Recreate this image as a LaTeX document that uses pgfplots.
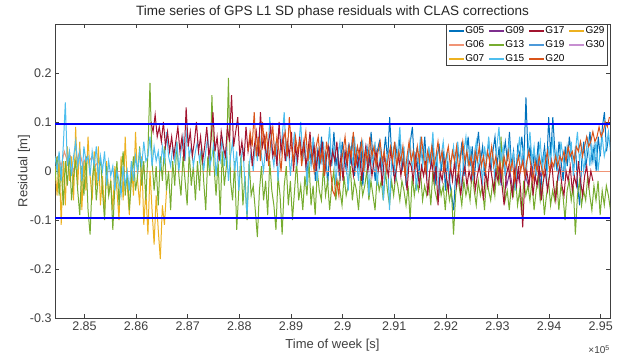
\documentclass[border=0pt]{standalone}
\usepackage{fontspec}
\setmainfont{Liberation Sans}
\usepackage{pgfplots}
\pgfplotsset{compat=1.18}
\definecolor{c05}{rgb}{0,0.447,0.741}
\definecolor{c06}{rgb}{0.94,0.58,0.46}
\definecolor{c07}{rgb}{0.929,0.694,0.125}
\definecolor{c09}{rgb}{0.494,0.184,0.556}
\definecolor{c13}{rgb}{0.466,0.674,0.188}
\definecolor{c15}{rgb}{0.301,0.745,0.933}
\definecolor{c17}{rgb}{0.635,0.078,0.184}
\definecolor{c19}{rgb}{0.30,0.60,0.85}
\definecolor{c20}{rgb}{0.85,0.325,0.098}
\definecolor{c29}{rgb}{0.929,0.694,0.125}
\definecolor{c30}{rgb}{0.78,0.56,0.82}
\definecolor{axgray}{rgb}{0.25,0.25,0.25}
\begin{document}
\begin{tikzpicture}
\useasboundingbox (0,0) rectangle (618pt,358pt);
\begin{axis}[
  name=ax,
  at={(55pt,40pt)}, anchor=south west,
  width=555pt, height=294pt, scale only axis,
  xmin=284429, xmax=295180, ymin=-0.3, ymax=0.3,
  scaled x ticks=false, scaled y ticks=false,
  xtick={285000,286000,287000,288000,289000,290000,291000,292000,293000,294000,295000},
  xticklabels={2.85,2.86,2.87,2.88,2.89,2.9,2.91,2.92,2.93,2.94,2.95},
  ytick={-0.3,-0.2,-0.1,0,0.1,0.2},
  yticklabels={-0.3,-0.2,-0.1,0,0.1,0.2},
  tick align=inside, major tick length=4pt,
  axis line style={axgray, line width=0.5pt},
  tick style={axgray, line width=0.5pt},
  ticklabel style={font=\fontsize{12.5}{14}\selectfont, text=axgray},
  xlabel={Time of week [s]}, ylabel={Residual [m]},
  label style={font=\fontsize{13}{15}\selectfont, text=axgray},
  xlabel style={yshift=-1.5pt},
  ylabel style={yshift=-7pt},
  title={Time series of GPS L1 SD phase residuals with CLAS corrections},
  title style={font=\fontsize{13.5}{15}\selectfont, text=black!85, yshift=-4pt},
  legend columns=4,
  legend cell align=left,
  legend style={at={(rel axis cs:0.995,1)}, anchor=north east,
    draw=axgray, line width=0.5pt, fill=white,
    font=\fontsize{10}{11}\selectfont, inner sep=2pt, row sep=4.5pt,
    /tikz/every even column/.append style={column sep=4pt},
    nodes={inner sep=0.5pt}},
  legend image code/.code={\draw[#1] (0pt,0pt) -- (15pt,0pt);},
  every axis plot/.append style={line width=1pt},
]
% G05
\addplot[c05, forget plot] table[row sep=\\, x expr={289272+40*\coordindex}, y=y] {y\\
0.03\\ -0.01\\ 0.05\\ 0.02\\ 0.06\\ -0.02\\ 0.04\\ 0.01\\ 0.07\\ 0.00\\
0.04\\ -0.03\\ 0.05\\ 0.02\\ 0.08\\ 0.01\\ 0.04\\ -0.02\\ 0.06\\ 0.03\\
0.00\\ 0.05\\ 0.02\\ 0.07\\ -0.01\\ 0.04\\ 0.01\\ 0.06\\ -0.03\\ 0.03\\
0.05\\ 0.01\\ 0.08\\ 0.02\\ -0.02\\ 0.04\\ 0.06\\ 0.00\\ 0.03\\ 0.07\\
0.02\\ 0.11\\ 0.03\\ -0.01\\ 0.05\\ 0.02\\ 0.07\\ 0.00\\ 0.04\\ -0.03\\
0.03\\ 0.06\\ 0.09\\ 0.01\\ 0.04\\ -0.02\\ 0.05\\ 0.02\\ 0.07\\ 0.00\\
0.04\\ 0.01\\ 0.06\\ -0.03\\ 0.03\\ 0.05\\ 0.00\\ 0.04\\ -0.04\\ 0.02\\
-0.02\\ -0.05\\ -0.08\\ 0.00\\ 0.04\\ 0.02\\ 0.06\\ -0.01\\ 0.03\\ 0.07\\
0.01\\ 0.05\\ -0.02\\ 0.04\\ 0.08\\ 0.02\\ 0.05\\ -0.01\\ 0.03\\ 0.06\\
0.00\\ 0.04\\ 0.07\\ 0.01\\ 0.05\\ -0.03\\ 0.03\\ 0.06\\ 0.02\\ 0.08\\
0.01\\ 0.04\\ -0.02\\ 0.05\\ 0.03\\ 0.07\\ 0.02\\ 0.15\\ 0.03\\ 0.05\\
-0.01\\ 0.04\\ 0.01\\ 0.06\\ -0.06\\ 0.02\\ 0.05\\ 0.00\\ 0.11\\ 0.03\\
0.11\\ 0.04\\ 0.00\\ 0.06\\ 0.02\\ -0.02\\ 0.05\\ 0.01\\ 0.07\\ 0.03\\
0.00\\ 0.05\\ -0.03\\ -0.07\\ 0.02\\ 0.06\\ 0.01\\ 0.04\\ 0.08\\ 0.02\\
0.05\\ 0.00\\ 0.07\\ 0.03\\ 0.09\\ 0.12\\ 0.04\\ 0.07\\
};
% G06 (start segment and zero line)
\addplot[c06, forget plot] table[row sep=\\, x expr={284429+60*\coordindex}, y=y] {y\\
0.02\\ 0.03\\ 0.01\\ 0.04\\ 0.02\\ 0.03\\ 0.00\\ 0.02\\ 0.04\\ 0.01\\
0.03\\ 0.02\\ 0.03\\ 0.01\\ 0.02\\
};
\addplot[c06, line width=0.5pt, forget plot] coordinates {(285400,0) (295180,0)};
% G07
\addplot[c07, forget plot] table[row sep=\\, x expr={284429+40*\coordindex}, y=y] {y\\
0.01\\ -0.05\\ 0.03\\ -0.11\\ 0.02\\ -0.07\\ 0.05\\ -0.02\\ 0.03\\ -0.06\\
0.09\\ -0.03\\ 0.06\\ -0.08\\ 0.02\\ -0.04\\ 0.07\\ -0.01\\ -0.06\\ 0.04\\
-0.03\\ 0.05\\ -0.07\\ -0.01\\ -0.09\\ 0.02\\ -0.05\\ -0.02\\ -0.08\\ 0.01\\
-0.04\\ -0.10\\ 0.03\\ -0.06\\ 0.07\\ -0.03\\ -0.09\\ 0.02\\ -0.05\\ 0.08\\
-0.02\\ -0.07\\ 0.03\\ -0.11\\ -0.04\\ -0.13\\ 0.00\\ -0.08\\ -0.15\\ -0.05\\
-0.12\\ -0.18\\ -0.07\\ -0.11\\ -0.04\\
};
% G09
\addplot[c09, forget plot] table[row sep=\\, x expr={293000+60*\coordindex}, y=y] {y\\
0.01\\ -0.02\\ 0.02\\ -0.03\\ 0.00\\ -0.04\\ 0.01\\ -0.02\\ 0.03\\ -0.01\\
-0.03\\ 0.01\\ -0.02\\ 0.02\\ -0.01\\ 0.00\\
};
% G13
\addplot[c13, forget plot] table[row sep=\\, x expr={284429+40*\coordindex}, y=y] {y\\
-0.02\\ 0.03\\ -0.05\\ 0.01\\ -0.07\\ 0.02\\ -0.03\\ 0.04\\ -0.06\\ -0.01\\
0.02\\ -0.04\\ -0.09\\ 0.01\\ -0.05\\ 0.03\\ -0.08\\ -0.13\\ -0.02\\ 0.02\\
-0.06\\ -0.01\\ 0.03\\ -0.04\\ -0.10\\ 0.01\\ -0.05\\ -0.02\\ -0.12\\ -0.03\\
0.02\\ -0.07\\ -0.01\\ 0.04\\ -0.05\\ 0.00\\ -0.08\\ -0.02\\ 0.03\\ -0.04\\
-0.01\\ 0.05\\ -0.03\\ 0.02\\ -0.06\\ 0.04\\ 0.18\\ 0.02\\ -0.04\\ 0.01\\
-0.07\\ 0.03\\ -0.02\\ 0.05\\ -0.04\\ 0.00\\ -0.08\\ 0.02\\ -0.03\\ 0.06\\
-0.01\\ -0.05\\ 0.03\\ -0.02\\ -0.07\\ 0.04\\ -0.03\\ 0.01\\ -0.06\\ 0.02\\
-0.04\\ 0.05\\ -0.02\\ -0.08\\ 0.03\\ -0.01\\ 0.155\\ 0.01\\ -0.05\\ 0.02\\
-0.09\\ 0.04\\ -0.03\\ 0.01\\ 0.19\\ -0.02\\ -0.06\\ 0.02\\ -0.12\\ -0.04\\
0.03\\ -0.07\\ -0.01\\ -0.10\\ 0.02\\ -0.05\\ -0.03\\ -0.08\\ -0.135\\ -0.04\\
0.01\\ -0.06\\ -0.02\\ -0.09\\ 0.02\\ -0.04\\ -0.07\\ -0.12\\ -0.01\\ -0.05\\
-0.13\\ -0.03\\ 0.01\\ -0.07\\ -0.02\\ -0.10\\ -0.04\\ 0.02\\ -0.06\\ -0.03\\
-0.08\\ -0.01\\ -0.05\\ 0.02\\ -0.07\\ -0.03\\ -0.09\\ 0.00\\ -0.04\\ -0.06\\
0.01\\ -0.05\\ -0.02\\ -0.08\\ -0.03\\ 0.00\\ -0.06\\ -0.02\\ -0.04\\ -0.07\\
-0.01\\ -0.05\\ -0.03\\ 0.01\\ -0.06\\ -0.02\\ -0.04\\ -0.08\\ -0.01\\ -0.05\\
-0.03\\ 0.00\\ -0.06\\ -0.02\\ -0.05\\ -0.08\\ -0.01\\ -0.04\\ -0.02\\ -0.06\\
0.00\\ -0.04\\ -0.07\\ -0.02\\ -0.05\\ -0.01\\ -0.03\\ -0.06\\ -0.02\\ -0.04\\
-0.07\\ -0.03\\ -0.10\\ -0.01\\ -0.05\\ -0.02\\ -0.04\\ 0.00\\ -0.06\\ -0.03\\
-0.05\\ -0.02\\ -0.07\\ 0.00\\ -0.04\\ -0.06\\ -0.02\\ -0.05\\ -0.03\\ -0.08\\
-0.02\\ -0.06\\ -0.04\\ -0.13\\ -0.05\\ -0.01\\ -0.04\\ -0.07\\ -0.02\\ -0.05\\
-0.03\\ -0.06\\ 0.00\\ -0.04\\ -0.07\\ -0.02\\ -0.05\\ -0.03\\ -0.08\\ -0.01\\
-0.04\\ -0.06\\ -0.02\\ -0.05\\ 0.01\\ -0.03\\ 0.07\\ -0.02\\ -0.06\\ -0.04\\
-0.08\\ -0.03\\ -0.05\\ -0.01\\ -0.07\\ -0.04\\ -0.09\\ -0.02\\ -0.05\\ -0.03\\
-0.06\\ -0.02\\ -0.08\\ -0.04\\ -0.01\\ -0.06\\ -0.03\\ -0.09\\ -0.05\\ -0.02\\
-0.07\\ -0.04\\ -0.06\\ -0.02\\ -0.08\\ -0.03\\ -0.05\\ -0.10\\ -0.04\\ -0.02\\
-0.06\\ -0.03\\ -0.13\\ -0.05\\ -0.02\\ -0.07\\ -0.04\\ -0.06\\ -0.01\\ -0.05\\
-0.08\\ -0.03\\ -0.06\\ -0.02\\ -0.09\\ -0.04\\ -0.07\\ -0.03\\ -0.05\\ -0.08\\
};
% G15
\addplot[c15, forget plot] table[row sep=\\, x expr={284429+40*\coordindex}, y=y] {y\\
0.03\\ 0.00\\ 0.04\\ -0.02\\ 0.05\\ 0.14\\ 0.01\\ 0.04\\ -0.01\\ 0.03\\
0.06\\ 0.01\\ 0.04\\ -0.02\\ 0.05\\ 0.02\\ 0.03\\ -0.01\\ 0.04\\ 0.01\\
0.05\\ -0.02\\ 0.03\\ 0.00\\ 0.04\\ -0.03\\ 0.02\\ -0.01\\ 0.01\\ -0.04\\
0.00\\ -0.02\\ -0.05\\ 0.01\\ -0.03\\ 0.00\\ -0.04\\ 0.02\\ -0.02\\ 0.03\\
0.00\\ 0.04\\ 0.01\\ 0.06\\ 0.02\\ 0.03\\ 0.07\\ 0.01\\ 0.05\\ 0.02\\
0.04\\ 0.00\\ 0.05\\ 0.02\\ 0.08\\ 0.03\\ 0.01\\ 0.05\\ 0.02\\ 0.06\\
0.00\\ 0.04\\ 0.07\\ 0.02\\ 0.09\\ 0.03\\ 0.05\\ 0.01\\ 0.04\\ 0.06\\
0.02\\ 0.05\\ 0.00\\ 0.04\\ 0.07\\ 0.01\\ 0.03\\ 0.06\\ -0.01\\ 0.04\\
0.02\\ 0.07\\ 0.01\\ 0.05\\ -0.02\\ 0.03\\ 0.06\\ 0.00\\ 0.04\\ -0.04\\
0.02\\ 0.05\\ -0.03\\ -0.09\\ 0.01\\ 0.04\\ 0.00\\ 0.06\\ 0.02\\ 0.08\\
0.03\\ 0.00\\ 0.05\\ 0.02\\ 0.11\\ 0.04\\ 0.01\\ 0.06\\ -0.02\\ 0.04\\
0.07\\ 0.12\\ 0.02\\ 0.05\\ -0.01\\ 0.04\\ 0.08\\ 0.01\\ 0.05\\ 0.10\\
0.02\\ 0.06\\ -0.03\\ 0.04\\ 0.01\\ 0.07\\ 0.03\\ -0.02\\ 0.05\\ 0.02\\
0.06\\ 0.00\\ 0.04\\ 0.09\\ 0.01\\ 0.05\\ -0.03\\ 0.03\\ 0.06\\ 0.00\\
0.04\\ 0.02\\ -0.04\\ 0.05\\ 0.01\\ 0.07\\ 0.02\\ -0.02\\ 0.04\\ 0.06\\
0.00\\ 0.05\\ -0.05\\ 0.03\\ 0.01\\ 0.06\\ -0.03\\ 0.02\\ 0.04\\ -0.06\\
0.01\\ 0.03\\ -0.08\\ 0.02\\ 0.05\\ -0.02\\ 0.04\\ 0.09\\ 0.01\\ 0.05\\
-0.03\\ 0.03\\ 0.06\\ 0.00\\ 0.04\\ -0.04\\ 0.02\\ 0.07\\ 0.01\\ 0.04\\
-0.02\\ 0.05\\ 0.02\\ 0.08\\ 0.00\\ 0.04\\ -0.05\\ 0.03\\ 0.06\\ 0.01\\
0.04\\ -0.03\\ 0.02\\ 0.05\\ 0.00\\ 0.06\\ 0.02\\ -0.04\\ 0.04\\ 0.07\\
0.01\\ 0.05\\ -0.02\\ 0.03\\ 0.06\\ 0.00\\ 0.04\\ -0.03\\ 0.05\\ 0.02\\
0.07\\ 0.01\\ 0.04\\ -0.02\\ 0.05\\ 0.09\\ 0.02\\ 0.05\\ -0.01\\ 0.03\\
0.06\\ 0.00\\ 0.04\\ -0.04\\ 0.03\\ 0.07\\ 0.01\\ 0.05\\ -0.02\\ 0.04\\
0.08\\ 0.02\\ 0.05\\ -0.01\\ 0.03\\ 0.06\\ 0.00\\ 0.04\\ -0.03\\ 0.05\\
0.02\\ 0.07\\ 0.01\\ 0.04\\ -0.02\\ 0.06\\ 0.03\\ 0.00\\ 0.05\\ 0.02\\
0.06\\ -0.01\\ 0.04\\ 0.08\\ 0.02\\ 0.05\\ 0.00\\ 0.03\\ 0.07\\ 0.01\\
0.05\\ 0.02\\ 0.06\\ 0.00\\ 0.04\\ 0.07\\ 0.03\\ 0.05\\ 0.08\\ 0.04\\
};
% G17
\addplot[c17, forget plot] table[row sep=\\, x expr={286289+40*\coordindex}, y=y] {y\\
0.10\\ 0.08\\ 0.115\\ 0.07\\ 0.09\\ 0.06\\ 0.10\\ 0.05\\ 0.08\\ 0.04\\
0.07\\ 0.03\\ 0.06\\ 0.09\\ 0.04\\ 0.07\\ 0.02\\ 0.13\\ 0.05\\ 0.08\\
0.03\\ 0.06\\ 0.10\\ 0.04\\ 0.07\\ 0.02\\ 0.05\\ 0.09\\ 0.03\\ 0.06\\
0.12\\ 0.04\\ 0.07\\ 0.02\\ 0.08\\ 0.05\\ 0.03\\ 0.09\\ 0.06\\ 0.155\\
0.05\\ 0.08\\ 0.11\\ 0.03\\ 0.06\\ 0.02\\ 0.09\\ 0.04\\ 0.07\\ 0.01\\
0.05\\ 0.08\\ 0.03\\ 0.12\\ 0.05\\ 0.07\\ 0.02\\ 0.06\\ 0.09\\ 0.03\\
0.05\\ 0.01\\ 0.10\\ 0.04\\ 0.07\\ 0.02\\ 0.06\\ 0.03\\ 0.08\\ 0.00\\
0.05\\ 0.02\\ 0.07\\ 0.03\\ 0.06\\ 0.01\\ 0.04\\ 0.08\\ 0.02\\ 0.05\\
0.00\\ 0.04\\ 0.02\\ 0.06\\ -0.01\\ 0.03\\ 0.05\\ 0.01\\ 0.04\\ 0.02\\
0.06\\ 0.00\\ 0.03\\ -0.02\\ 0.04\\ 0.01\\ 0.05\\ 0.02\\ -0.01\\ 0.03\\
0.01\\ 0.04\\ -0.02\\ 0.02\\ 0.05\\ 0.00\\ 0.03\\ -0.01\\ 0.02\\ 0.04\\
0.00\\ 0.02\\ -0.03\\ 0.03\\ 0.01\\ -0.01\\ 0.04\\ 0.02\\ -0.02\\ 0.01\\
0.03\\ -0.01\\ 0.02\\ 0.00\\ -0.04\\ 0.02\\ 0.01\\ -0.02\\ 0.03\\ 0.00\\
-0.03\\ 0.01\\ -0.01\\ 0.02\\ -0.05\\ 0.00\\ 0.02\\ -0.02\\ 0.01\\ -0.07\\
0.00\\ -0.02\\ 0.02\\ -0.01\\ -0.04\\ 0.01\\ -0.02\\ 0.02\\ -0.03\\ 0.00\\
-0.05\\ -0.01\\ 0.01\\ -0.03\\ 0.00\\ -0.02\\ 0.02\\ -0.04\\ -0.01\\ 0.01\\
-0.02\\ -0.06\\ 0.00\\ -0.03\\ 0.02\\ -0.01\\ -0.04\\ 0.00\\ -0.02\\ 0.01\\
-0.03\\ -0.07\\ -0.01\\ 0.01\\ -0.02\\ -0.05\\ 0.00\\ -0.03\\ 0.01\\ -0.04\\
-0.115\\ -0.02\\ 0.00\\ -0.03\\ 0.01\\ -0.05\\ -0.01\\ -0.03\\ 0.01\\ -0.06\\
-0.02\\ 0.00\\ -0.04\\ -0.01\\ 0.02\\ -0.03\\ -0.06\\ -0.01\\ 0.01\\ -0.03\\
-0.05\\ 0.00\\ -0.02\\ 0.01\\ -0.04\\ -0.01\\ -0.03\\ 0.02\\ -0.02\\ -0.05\\
-0.01\\ 0.01\\ -0.03\\ 0.00\\ -0.02\\
};
% G20
\addplot[c20, forget plot] table[row sep=\\, x expr={288168+40*\coordindex}, y=y] {y\\
0.04\\ 0.08\\ 0.05\\ 0.12\\ 0.03\\ 0.07\\ 0.02\\ 0.10\\ 0.05\\ 0.08\\
0.01\\ 0.06\\ 0.09\\ 0.03\\ 0.07\\ 0.04\\ 0.00\\ 0.06\\ 0.08\\ 0.03\\
0.11\\ 0.05\\ 0.02\\ 0.07\\ 0.04\\ 0.06\\ 0.01\\ 0.05\\ 0.08\\ 0.02\\
0.06\\ 0.03\\ 0.00\\ 0.05\\ 0.07\\ 0.02\\ 0.04\\ -0.01\\ 0.06\\ 0.03\\
0.00\\ -0.04\\ -0.05\\ -0.02\\ -0.05\\ 0.01\\ 0.04\\ 0.07\\ 0.02\\ 0.05\\
0.03\\ 0.08\\ 0.01\\ 0.05\\ 0.03\\ 0.06\\ 0.00\\ 0.04\\ 0.02\\ 0.07\\
0.03\\ 0.05\\ 0.01\\ 0.04\\ 0.06\\ 0.02\\ 0.04\\ 0.00\\ 0.03\\ 0.05\\
0.02\\ 0.06\\ 0.01\\ 0.04\\ 0.02\\ 0.05\\ -0.01\\ 0.03\\ 0.06\\ 0.02\\
0.04\\ 0.01\\ 0.05\\ 0.02\\ 0.07\\ 0.03\\ 0.00\\ 0.04\\ 0.02\\ 0.05\\
0.01\\ 0.03\\ 0.06\\ 0.02\\ 0.04\\ 0.00\\ 0.03\\ 0.05\\ 0.01\\ 0.04\\
0.02\\ 0.05\\ 0.00\\ 0.03\\ 0.06\\ 0.02\\ 0.04\\ 0.01\\ 0.03\\ -0.01\\
0.04\\ 0.02\\ 0.05\\ 0.01\\ 0.03\\ 0.00\\ 0.04\\ 0.02\\ 0.05\\ 0.01\\
0.03\\ 0.00\\ 0.02\\ -0.01\\ 0.03\\ 0.01\\ 0.04\\ 0.00\\ 0.02\\ -0.02\\
0.01\\ 0.03\\ 0.00\\ 0.02\\ -0.01\\ 0.02\\ 0.04\\ 0.01\\ -0.02\\ 0.02\\
0.00\\ 0.03\\ 0.01\\ -0.01\\ 0.02\\ 0.04\\ 0.00\\ 0.02\\ 0.01\\ 0.03\\
0.01\\ 0.03\\ 0.02\\ 0.04\\ 0.02\\ 0.05\\ 0.03\\ 0.04\\ 0.02\\ 0.05\\
0.04\\ 0.06\\ 0.03\\ 0.05\\ 0.07\\ 0.05\\ 0.06\\ 0.08\\ 0.06\\ 0.07\\
0.09\\ 0.07\\ 0.08\\ 0.10\\ 0.09\\ 0.11\\
};
% threshold lines
\addplot[blue, line width=2pt, forget plot] coordinates {(284429,0.095) (295180,0.095)};
\addplot[blue, line width=2pt, forget plot] coordinates {(284429,-0.095) (295180,-0.095)};
% legend (row-wise order to match column-major reference)
\addlegendimage{color=c05, line width=1.2pt}\addlegendentry{G05}
\addlegendimage{color=c09, line width=1.2pt}\addlegendentry{G09}
\addlegendimage{color=c17, line width=1.2pt}\addlegendentry{G17}
\addlegendimage{color=c29, line width=1.2pt}\addlegendentry{G29}
\addlegendimage{color=c06, line width=1.2pt}\addlegendentry{G06}
\addlegendimage{color=c13, line width=1.2pt}\addlegendentry{G13}
\addlegendimage{color=c19, line width=1.2pt}\addlegendentry{G19}
\addlegendimage{color=c30, line width=1.2pt}\addlegendentry{G30}
\addlegendimage{color=c07, line width=1.2pt}\addlegendentry{G07}
\addlegendimage{color=c15, line width=1.2pt}\addlegendentry{G15}
\addlegendimage{color=c20, line width=1.2pt}\addlegendentry{G20}
\end{axis}
\node[anchor=north east, font=\fontsize{10}{11}\selectfont, text=axgray, inner sep=0pt] at ([yshift=-27pt]ax.south east) {×10\textsuperscript{5}};
\end{tikzpicture}
\end{document}
